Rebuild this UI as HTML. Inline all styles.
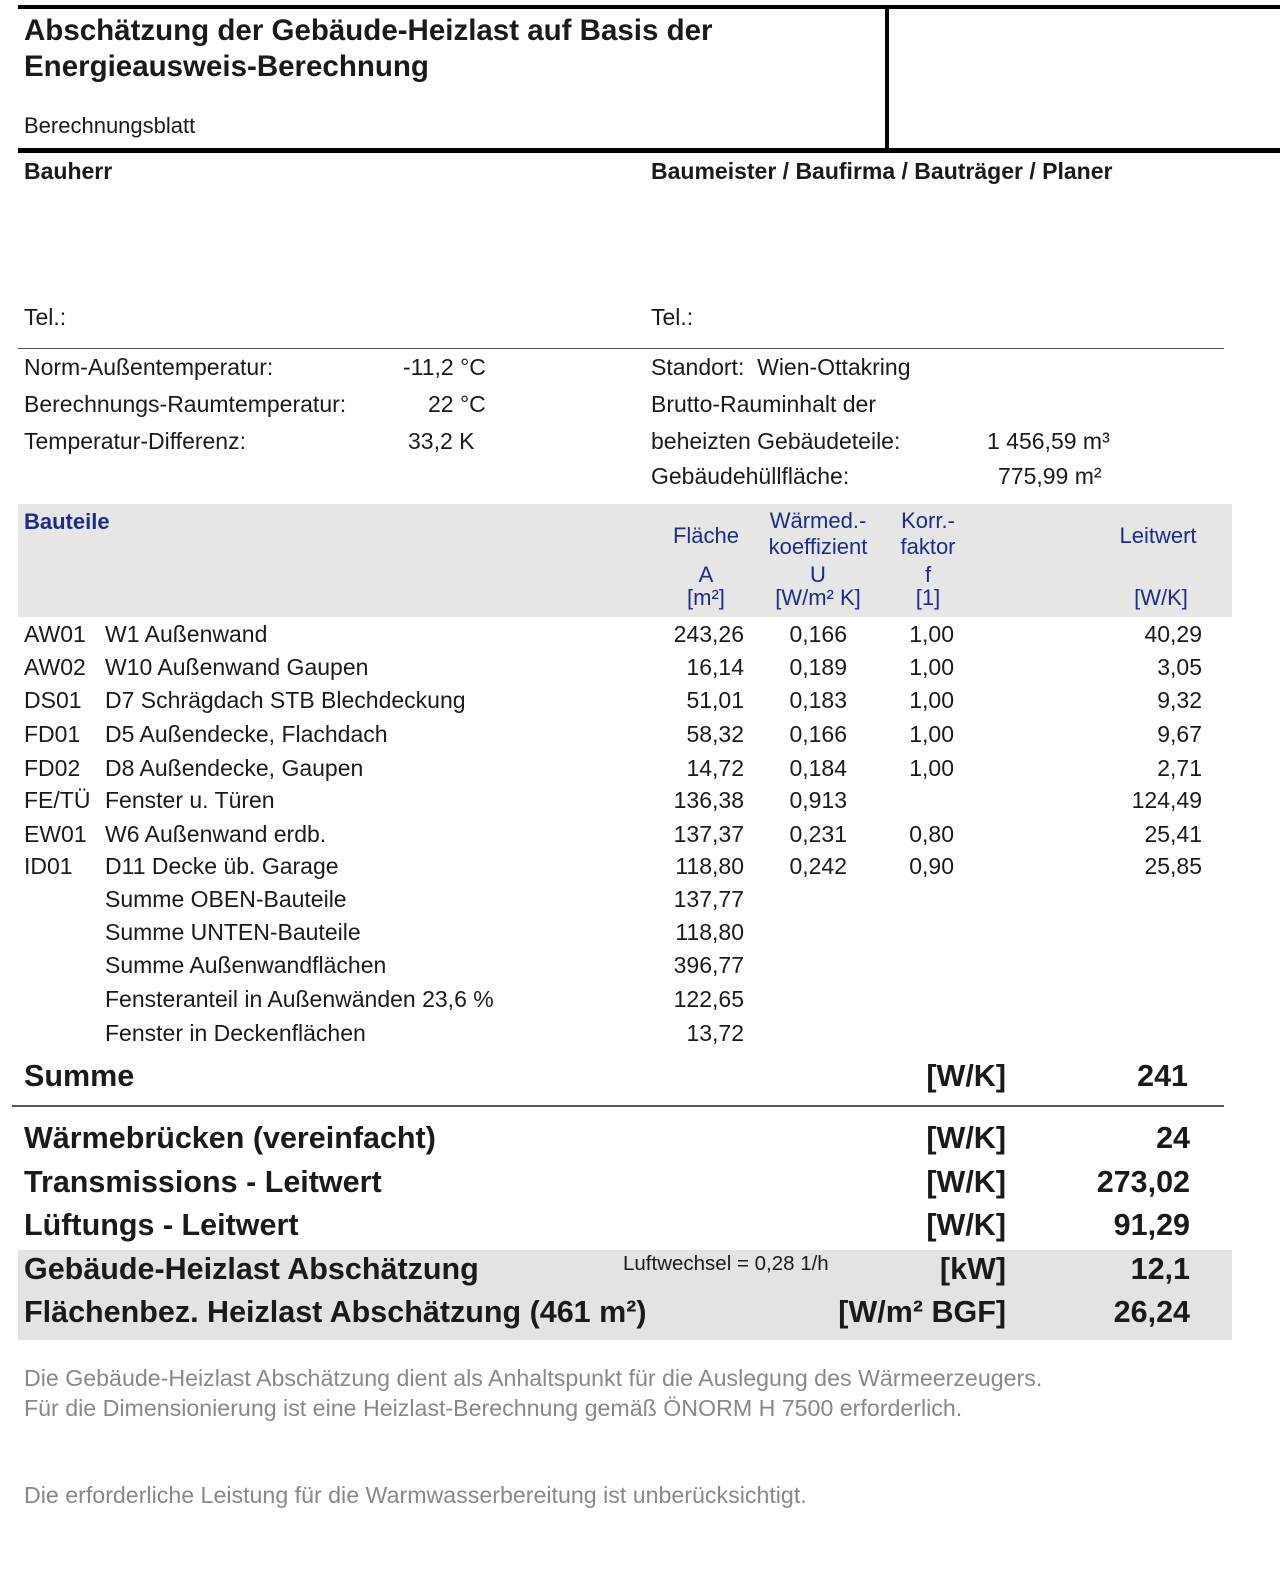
<!DOCTYPE html>
<html><head><meta charset="utf-8"><style>
body{margin:0;width:1280px;height:1581px;background:#fff;position:relative;overflow:hidden;font-family:"Liberation Sans",sans-serif;color:#1a1a1a}
div{position:absolute;white-space:nowrap}
.t{font-size:23px;line-height:22px}
.r{text-align:right}
.h{font-size:22px;line-height:21px;color:#1f2a8c;text-align:center;width:140px}
.b{font-size:30.5px;line-height:29px;font-weight:bold}
.g{font-size:23.2px;line-height:22px;color:#888}
</style></head><body>
<div style="left:18px;top:5px;width:1262px;height:4px;background:#000"></div>
<div style="left:885px;top:9px;width:4px;height:142px;background:#000"></div>
<div style="left:18px;top:148px;width:1262px;height:5px;background:#000"></div>
<div style="left:24px;top:13px;font-size:29.5px;line-height:36px;font-weight:bold">Abschätzung der Gebäude-Heizlast auf Basis der<br>Energieausweis-Berechnung</div>
<div class="t" style="left:24px;top:115px;font-size:22px">Berechnungsblatt</div>
<div class="t" style="left:24px;top:160px;font-weight:bold">Bauherr</div>
<div class="t" style="left:651px;top:160px;font-weight:bold">Baumeister / Baufirma / Bauträger / Planer</div>
<div class="t" style="left:24px;top:306px">Tel.:</div>
<div class="t" style="left:651px;top:306px">Tel.:</div>
<div style="left:18px;top:348px;width:1206px;height:1px;background:#555"></div>
<div class="t" style="left:24px;top:356px">Norm-Außentemperatur:</div>
<div class="t" style="left:403px;top:356px">-11,2 °C</div>
<div class="t" style="left:24px;top:393px">Berechnungs-Raumtemperatur:</div>
<div class="t" style="left:428px;top:393px">22 °C</div>
<div class="t" style="left:24px;top:430px">Temperatur-Differenz:</div>
<div class="t" style="left:408px;top:430px">33,2 K</div>
<div class="t" style="left:651px;top:356px">Standort:&nbsp; Wien-Ottakring</div>
<div class="t" style="left:651px;top:393px">Brutto-Rauminhalt der</div>
<div class="t" style="left:651px;top:430px">beheizten Gebäudeteile:</div>
<div class="t" style="left:987px;top:430px">1 456,59 m³</div>
<div class="t" style="left:651px;top:465px">Gebäudehüllfläche:</div>
<div class="t" style="left:998px;top:465px">775,99 m²</div>
<div style="left:18px;top:504px;width:1214px;height:113px;background:#e6e6e6"></div>
<div class="t" style="left:24px;top:511px;font-size:22px;font-weight:bold;color:#1f2a8c">Bauteile</div>
<div class="h" style="left:636px;top:525px">Fläche</div>
<div class="h" style="left:748px;top:510px">Wärmed.-</div>
<div class="h" style="left:748px;top:536px">koeffizient</div>
<div class="h" style="left:858px;top:510px">Korr.-</div>
<div class="h" style="left:858px;top:536px">faktor</div>
<div class="h" style="left:636px;top:564px">A</div>
<div class="h" style="left:748px;top:564px">U</div>
<div class="h" style="left:858px;top:564px">f</div>
<div class="h" style="left:636px;top:587px">[m²]</div>
<div class="h" style="left:748px;top:587px">[W/m² K]</div>
<div class="h" style="left:858px;top:587px">[1]</div>
<div class="h" style="left:1088px;top:525px">Leitwert</div>
<div class="h" style="left:1091px;top:587px">[W/K]</div>

<div class="t" style="left:24px;top:623px">AW01</div><div class="t" style="left:105px;top:623px">W1 Außenwand</div><div class="t r" style="right:536px;top:623px">243,26</div><div class="t r" style="right:433px;top:623px">0,166</div><div class="t r" style="right:326px;top:623px">1,00</div><div class="t r" style="right:78px;top:623px">40,29</div>
<div class="t" style="left:24px;top:656px">AW02</div><div class="t" style="left:105px;top:656px">W10 Außenwand Gaupen</div><div class="t r" style="right:536px;top:656px">16,14</div><div class="t r" style="right:433px;top:656px">0,189</div><div class="t r" style="right:326px;top:656px">1,00</div><div class="t r" style="right:78px;top:656px">3,05</div>
<div class="t" style="left:24px;top:689px">DS01</div><div class="t" style="left:105px;top:689px">D7 Schrägdach STB Blechdeckung</div><div class="t r" style="right:536px;top:689px">51,01</div><div class="t r" style="right:433px;top:689px">0,183</div><div class="t r" style="right:326px;top:689px">1,00</div><div class="t r" style="right:78px;top:689px">9,32</div>
<div class="t" style="left:24px;top:723px">FD01</div><div class="t" style="left:105px;top:723px">D5 Außendecke, Flachdach</div><div class="t r" style="right:536px;top:723px">58,32</div><div class="t r" style="right:433px;top:723px">0,166</div><div class="t r" style="right:326px;top:723px">1,00</div><div class="t r" style="right:78px;top:723px">9,67</div>
<div class="t" style="left:24px;top:757px">FD02</div><div class="t" style="left:105px;top:757px">D8 Außendecke, Gaupen</div><div class="t r" style="right:536px;top:757px">14,72</div><div class="t r" style="right:433px;top:757px">0,184</div><div class="t r" style="right:326px;top:757px">1,00</div><div class="t r" style="right:78px;top:757px">2,71</div>
<div class="t" style="left:24px;top:789px">FE/TÜ</div><div class="t" style="left:105px;top:789px">Fenster u. Türen</div><div class="t r" style="right:536px;top:789px">136,38</div><div class="t r" style="right:433px;top:789px">0,913</div><div class="t r" style="right:78px;top:789px">124,49</div>
<div class="t" style="left:24px;top:823px">EW01</div><div class="t" style="left:105px;top:823px">W6 Außenwand erdb.</div><div class="t r" style="right:536px;top:823px">137,37</div><div class="t r" style="right:433px;top:823px">0,231</div><div class="t r" style="right:326px;top:823px">0,80</div><div class="t r" style="right:78px;top:823px">25,41</div>
<div class="t" style="left:24px;top:855px">ID01</div><div class="t" style="left:105px;top:855px">D11 Decke üb. Garage</div><div class="t r" style="right:536px;top:855px">118,80</div><div class="t r" style="right:433px;top:855px">0,242</div><div class="t r" style="right:326px;top:855px">0,90</div><div class="t r" style="right:78px;top:855px">25,85</div>
<div class="t" style="left:105px;top:888px">Summe OBEN-Bauteile</div><div class="t r" style="right:536px;top:888px">137,77</div>
<div class="t" style="left:105px;top:921px">Summe UNTEN-Bauteile</div><div class="t r" style="right:536px;top:921px">118,80</div>
<div class="t" style="left:105px;top:954px">Summe Außenwandflächen</div><div class="t r" style="right:536px;top:954px">396,77</div>
<div class="t" style="left:105px;top:988px">Fensteranteil in Außenwänden 23,6 %</div><div class="t r" style="right:536px;top:988px">122,65</div>
<div class="t" style="left:105px;top:1022px">Fenster in Deckenflächen</div><div class="t r" style="right:536px;top:1022px">13,72</div>

<div class="b" style="left:24px;top:1062px">Summe</div><div class="b r" style="right:274px;top:1062px">[W/K]</div><div class="b r" style="right:92px;top:1062px">241</div>
<div style="left:12px;top:1105px;width:1212px;height:2px;background:#555"></div>
<div class="b" style="left:24px;top:1124px">Wärmebrücken (vereinfacht)</div><div class="b r" style="right:274px;top:1124px">[W/K]</div><div class="b r" style="right:90px;top:1124px">24</div>
<div class="b" style="left:24px;top:1168px">Transmissions - Leitwert</div><div class="b r" style="right:274px;top:1168px">[W/K]</div><div class="b r" style="right:90px;top:1168px">273,02</div>
<div class="b" style="left:24px;top:1211px">Lüftungs - Leitwert</div><div class="b r" style="right:274px;top:1211px">[W/K]</div><div class="b r" style="right:90px;top:1211px">91,29</div>
<div style="left:18px;top:1250px;width:1214px;height:90px;background:#e3e3e3"></div>
<div class="b" style="left:24px;top:1255px">Gebäude-Heizlast Abschätzung</div>
<div class="t" style="left:623px;top:1253px;font-size:20.5px">Luftwechsel = 0,28 1/h</div>
<div class="b r" style="right:274px;top:1255px">[kW]</div><div class="b r" style="right:90px;top:1255px">12,1</div>
<div class="b" style="left:24px;top:1298px">Flächenbez. Heizlast Abschätzung (461 m²)</div><div class="b r" style="right:274px;top:1298px">[W/m² BGF]</div><div class="b r" style="right:90px;top:1298px">26,24</div>

<div class="g" style="left:24px;top:1367px">Die Gebäude-Heizlast Abschätzung dient als Anhaltspunkt für die Auslegung des Wärmeerzeugers.</div>
<div class="g" style="left:24px;top:1397px">Für die Dimensionierung ist eine Heizlast-Berechnung gemäß ÖNORM H 7500 erforderlich.</div>
<div class="g" style="left:24px;top:1484px">Die erforderliche Leistung für die Warmwasserbereitung ist unberücksichtigt.</div>
</body></html>
